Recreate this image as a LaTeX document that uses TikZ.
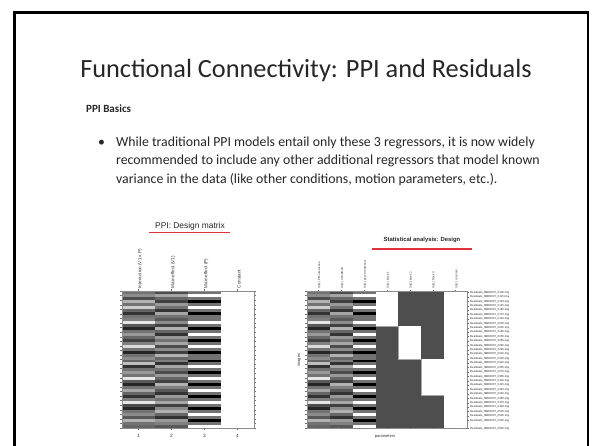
\documentclass[tikz,border=0pt]{standalone}
\usepackage{fontspec}
\setmainfont{Carlito}
\newfontfamily\slidefont{Carlito}
\newfontfamily\figfont{Liberation Sans}
\definecolor{slidetext}{HTML}{262626}
\definecolor{accentred}{HTML}{E2323C}
\definecolor{blockgray}{HTML}{4E4E4E}
\tikzset{
  frameline/.style={line width=2.8pt, black},
  tickmark/.style={black!55, line width=0.3pt},
  matframe/.style={black!45, line width=0.4pt},
  redrule/.style={accentred, line width=1.4pt},
  vlabel/.style={rotate=90, anchor=west, inner sep=0pt, font=\figfont\fontsize{4.6}{5}\selectfont, text=black!80},
  vlabelsmall/.style={rotate=90, anchor=west, inner sep=0pt, font=\figfont\fontsize{2.9}{3}\selectfont, text=black!80},
  rowlabel/.style={anchor=west, inner sep=0pt, font=\figfont\fontsize{2.8}{3}\selectfont, text=black!85},
  axisnum/.style={inner sep=0pt, font=\figfont\fontsize{4.8}{5}\selectfont, text=black!80},
  bodyline/.style={anchor=base west, inner sep=0pt, font=\slidefont\fontsize{13.8}{16}\selectfont, text=slidetext}
}
% regressor values (percent black) for interaction / main effect V1 / main effect P
\def\regrows{55/70/55, 45/35/0, 70/60/55, 30/75/100, 55/40/55, 20/55/0, 60/80/55, 80/35/100,
  55/55/55, 50/65/55, 10/45/0, 65/75/55, 85/30/100, 55/60/55, 40/80/0, 60/40/55,
  75/55/100, 50/35/55, 15/70/0, 55/45/55, 85/75/100, 55/30/55, 45/60/55, 60/50/100,
  25/80/55, 80/35/0, 55/55/55, 40/70/100, 55/40/55, 10/60/0, 65/75/55, 85/30/100,
  55/50/55, 35/65/0, 60/80/55, 80/40/100, 50/55/55, 10/35/0, 70/75/55, 85/45/100,
  55/30/55, 45/60/0, 65/80/55, 30/40/100, 55/50/55, 60/65/0}
\begin{document}
\begin{tikzpicture}[x=1pt, y=-1pt]
\useasboundingbox (0,0) rectangle (602,445);
\fill[white] (0,0) rectangle (602,445);

% slide frame (bottom edge runs off the page)
\draw[frameline] (14.5,452) -- (14.5,12.5) -- (588,12.5) -- (588,452);

% slide text
\node[font=\slidefont\fontsize{26.3}{30}\selectfont, text=slidetext] (title) at (306,70) {Functional Connectivity: PPI and Residuals};
\node[anchor=base west, inner sep=0pt, font=\slidefont\bfseries\fontsize{11}{13}\selectfont, text=slidetext] (basics) at (86,112) {PPI Basics};
\node[bodyline] (bullet) at (98,146) {\textbullet};
\node[bodyline] (line1) at (116,146) {While traditional PPI models entail only these 3 regressors, it is now widely};
\node[bodyline] (line2) at (116,164.5) {recommended to include any other additional regressors that model known};
\node[bodyline] (line3) at (116,183) {variance in the data (like other conditions, motion parameters, etc.).};

% ---------- left panel: PPI design matrix ----------
\node[font=\figfont\fontsize{8.4}{9}\selectfont, text=black!85] (ppititle) at (190,226.5) {PPI: Design matrix};
\coordinate (rl1) at (149,232.5);
\coordinate (rl2) at (230,232.5);
\draw[redrule] (rl1) -- (rl2);

\def\rh{2.9783}
\foreach \a/\b/\c [count=\i from 0] in \regrows {
  \fill[black!\a] (122,{291+\i*\rh}) rectangle ++(33.2,\rh+0.2);
  \fill[black!\b] (155,{291+\i*\rh}) rectangle ++(33.2,\rh+0.2);
  \fill[black!\c] (188,{291+\i*\rh}) rectangle ++(33.2,\rh+0.2);
}
\fill[white] (221,291) rectangle (254.5,428);
\draw[matframe] (122,291) rectangle (254.5,428);
\foreach \t in {0,...,30} {
  \draw[tickmark] (122,{291+\t*4.567}) -- ++(-1.6,0);
  \draw[tickmark] (254.5,{291+\t*4.567}) -- ++(1.6,0);
}
\foreach \x/\n/\lab in {138.5/1/{Interaction (V1 x P)}, 171.5/2/{Main effect (V1)}, 204.5/3/{Main effect (P)}, 237.5/4/{Constant}} {
  \draw[tickmark] (\x,291) -- ++(0,-1.6);
  \draw[tickmark] (\x,428) -- ++(0,1.6);
  \node[vlabel] (lc\n) at (\x+1.6,288.5) {\lab};
  \node[axisnum] (ln\n) at (\x,435.5) {\n};
}

% ---------- right panel: statistical analysis design ----------
\node[font=\figfont\bfseries\fontsize{5.9}{7}\selectfont, text=black!85] (stattitle) at (422,239.5) {Statistical analysis: Design};
\coordinate (rr1) at (372,249);
\coordinate (rr2) at (472,249);
\draw[redrule] (rr1) -- (rr2);

\def\cw{22.857}
\foreach \a/\b/\c [count=\i from 0] in \regrows {
  \fill[black!\a] (307,{291+\i*\rh}) rectangle ++(\cw+0.2,\rh+0.2);
  \fill[black!\b] ({307+\cw},{291+\i*\rh}) rectangle ++(\cw+0.2,\rh+0.2);
  \fill[black!\c] ({307+2*\cw},{291+\i*\rh}) rectangle ++(\cw+0.2,\rh+0.2);
}
% block regressors
\fill[blockgray] ({307+3*\cw},291) rectangle ({307+6*\cw},428);
\fill[white] ({307+3*\cw},291) rectangle ({307+4*\cw},326);
\fill[white] ({307+4*\cw},326) rectangle ({307+5*\cw},359);
\fill[white] ({307+5*\cw},359) rectangle ({307+6*\cw},395);
\fill[white] ({307+6*\cw},291) rectangle (467,428);
\draw[matframe] (307,291) rectangle (467,428);
\draw[black!35, line width=0.4pt] ({307+3*\cw},326) -- ({307+4*\cw},326) -- ({307+4*\cw},359) -- ({307+5*\cw},359) -- ({307+5*\cw},395) -- ({307+6*\cw},395);

\foreach \t in {0,...,30} {
  \draw[tickmark] (307,{291+\t*4.567}) -- ++(-1.6,0);
}
\foreach \k/\lab in {1/{Sn(1) PPI-interaction}, 2/{Sn(1) VOI-BOLD}, 3/{Sn(1) psych-regressor}, 4/{Sn(1) block 1}, 5/{Sn(1) block 2}, 6/{Sn(1) block 3}, 7/{Sn(1) constant}} {
  \draw[tickmark] ({307+(\k-0.5)*\cw},291) -- ++(0,-1.4);
  \draw[tickmark] ({307+(\k-0.5)*\cw},428) -- ++(0,1.4);
  \node[vlabelsmall] (sc\k) at ({307+(\k-0.5)*\cw+1},289) {\lab};
}
\foreach \k in {0,...,29} {
  \pgfmathtruncatemacro{\nn}{100+\k*15}
  \draw[tickmark] (467,{292.5+\k*4.41}) -- ++(1.6,0);
  \node[rowlabel] (img\k) at (470,{292.5+\k*4.41}) {Residuals\_fMRI0007\_0\nn.img};
}
\draw[tickmark] (467,428) -- ++(1.6,0);
\node[rowlabel] (imglast) at (470,428.5) {Residuals\_fMRI0007\_0550.img};

\node[rotate=90, inner sep=0pt, font=\figfont\fontsize{4}{5}\selectfont, text=black!80] (imagesaxis) at (299,360) {images};
\node[inner sep=0pt, font=\figfont\fontsize{4}{5}\selectfont, text=black!80] (paramaxis) at (385,437) {parameters};
\end{tikzpicture}
\end{document}
